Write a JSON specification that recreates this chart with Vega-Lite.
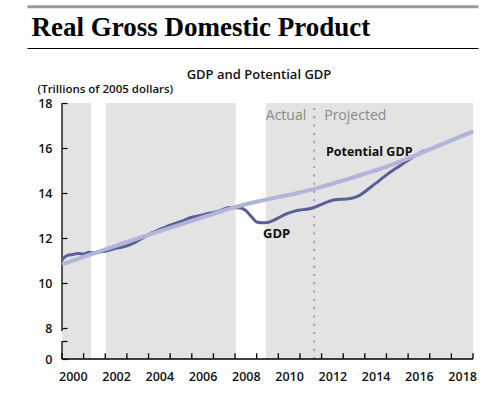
{
  "$schema": "https://vega.github.io/schema/vega-lite/v6.json",
  "width": 451,
  "height": 256,
  "autosize": {"type": "none"},
  "padding": {"left": 27, "top": 103, "right": 22, "bottom": 43},
  "config": {
    "view": {"stroke": null},
    "axis": {"grid": false},
    "text": {"font": "Open Sans"}
  },
  "datasets": {
    "gdp": [
      {"series": "GDP", "year": 2000.0, "value": 11.05},
      {"series": "GDP", "year": 2000.25, "value": 11.24},
      {"series": "GDP", "year": 2000.5, "value": 11.28},
      {"series": "GDP", "year": 2000.75, "value": 11.32},
      {"series": "GDP", "year": 2001.0, "value": 11.30},
      {"series": "GDP", "year": 2001.25, "value": 11.37},
      {"series": "GDP", "year": 2001.5, "value": 11.34},
      {"series": "GDP", "year": 2001.75, "value": 11.39},
      {"series": "GDP", "year": 2002.0, "value": 11.42},
      {"series": "GDP", "year": 2002.25, "value": 11.48},
      {"series": "GDP", "year": 2002.5, "value": 11.55},
      {"series": "GDP", "year": 2002.75, "value": 11.60},
      {"series": "GDP", "year": 2003.0, "value": 11.66},
      {"series": "GDP", "year": 2003.25, "value": 11.76},
      {"series": "GDP", "year": 2003.5, "value": 11.88},
      {"series": "GDP", "year": 2003.75, "value": 12.02},
      {"series": "GDP", "year": 2004.0, "value": 12.16},
      {"series": "GDP", "year": 2004.25, "value": 12.28},
      {"series": "GDP", "year": 2004.5, "value": 12.38},
      {"series": "GDP", "year": 2004.75, "value": 12.48},
      {"series": "GDP", "year": 2005.0, "value": 12.58},
      {"series": "GDP", "year": 2005.25, "value": 12.66},
      {"series": "GDP", "year": 2005.5, "value": 12.74},
      {"series": "GDP", "year": 2005.75, "value": 12.84},
      {"series": "GDP", "year": 2006.0, "value": 12.93},
      {"series": "GDP", "year": 2006.25, "value": 12.98},
      {"series": "GDP", "year": 2006.5, "value": 13.03},
      {"series": "GDP", "year": 2006.75, "value": 13.10},
      {"series": "GDP", "year": 2007.0, "value": 13.14},
      {"series": "GDP", "year": 2007.25, "value": 13.20},
      {"series": "GDP", "year": 2007.5, "value": 13.30},
      {"series": "GDP", "year": 2007.75, "value": 13.36},
      {"series": "GDP", "year": 2008.0, "value": 13.35},
      {"series": "GDP", "year": 2008.25, "value": 13.34},
      {"series": "GDP", "year": 2008.5, "value": 13.22},
      {"series": "GDP", "year": 2008.75, "value": 12.96},
      {"series": "GDP", "year": 2009.0, "value": 12.72},
      {"series": "GDP", "year": 2009.25, "value": 12.68},
      {"series": "GDP", "year": 2009.5, "value": 12.70},
      {"series": "GDP", "year": 2009.75, "value": 12.78},
      {"series": "GDP", "year": 2010.0, "value": 12.90},
      {"series": "GDP", "year": 2010.25, "value": 13.02},
      {"series": "GDP", "year": 2010.5, "value": 13.12},
      {"series": "GDP", "year": 2010.75, "value": 13.20},
      {"series": "GDP", "year": 2011.0, "value": 13.25},
      {"series": "GDP", "year": 2011.25, "value": 13.28},
      {"series": "GDP", "year": 2011.5, "value": 13.32},
      {"series": "GDP", "year": 2011.75, "value": 13.40},
      {"series": "GDP", "year": 2012.0, "value": 13.50},
      {"series": "GDP", "year": 2012.25, "value": 13.60},
      {"series": "GDP", "year": 2012.5, "value": 13.68},
      {"series": "GDP", "year": 2012.75, "value": 13.72},
      {"series": "GDP", "year": 2013.0, "value": 13.73},
      {"series": "GDP", "year": 2013.25, "value": 13.75},
      {"series": "GDP", "year": 2013.5, "value": 13.80},
      {"series": "GDP", "year": 2013.75, "value": 13.90},
      {"series": "GDP", "year": 2014.0, "value": 14.06},
      {"series": "GDP", "year": 2014.25, "value": 14.25},
      {"series": "GDP", "year": 2014.5, "value": 14.43},
      {"series": "GDP", "year": 2014.75, "value": 14.62},
      {"series": "GDP", "year": 2015.0, "value": 14.81},
      {"series": "GDP", "year": 2015.25, "value": 14.98},
      {"series": "GDP", "year": 2015.5, "value": 15.14},
      {"series": "GDP", "year": 2015.75, "value": 15.30},
      {"series": "GDP", "year": 2016.0, "value": 15.46},
      {"series": "GDP", "year": 2016.25, "value": 15.62},
      {"series": "GDP", "year": 2016.5, "value": 15.76},
      {"series": "GDP", "year": 2016.75, "value": 15.88},
      {"series": "GDP", "year": 2017.0, "value": 15.95},
      {"series": "GDP", "year": 2017.5, "value": 16.15},
      {"series": "GDP", "year": 2018.0, "value": 16.34},
      {"series": "GDP", "year": 2018.5, "value": 16.54},
      {"series": "GDP", "year": 2019.0, "value": 16.74},
      {"series": "Potential GDP", "year": 2000, "value": 10.84},
      {"series": "Potential GDP", "year": 2001, "value": 11.17},
      {"series": "Potential GDP", "year": 2002, "value": 11.50},
      {"series": "Potential GDP", "year": 2003, "value": 11.83},
      {"series": "Potential GDP", "year": 2004, "value": 12.15},
      {"series": "Potential GDP", "year": 2005, "value": 12.46},
      {"series": "Potential GDP", "year": 2006, "value": 12.77},
      {"series": "Potential GDP", "year": 2007, "value": 13.08},
      {"series": "Potential GDP", "year": 2008, "value": 13.38},
      {"series": "Potential GDP", "year": 2009, "value": 13.62},
      {"series": "Potential GDP", "year": 2010, "value": 13.83},
      {"series": "Potential GDP", "year": 2011, "value": 14.03},
      {"series": "Potential GDP", "year": 2012, "value": 14.28},
      {"series": "Potential GDP", "year": 2013, "value": 14.56},
      {"series": "Potential GDP", "year": 2014, "value": 14.86},
      {"series": "Potential GDP", "year": 2015, "value": 15.17},
      {"series": "Potential GDP", "year": 2016, "value": 15.54},
      {"series": "Potential GDP", "year": 2017, "value": 15.94},
      {"series": "Potential GDP", "year": 2018, "value": 16.34},
      {"series": "Potential GDP", "year": 2019, "value": 16.74}
    ],
    "shading": [
      {"start": 2000.0, "end": 2001.34},
      {"start": 2002.03, "end": 2008.02},
      {"start": 2009.42, "end": 2019.0}
    ]
  },
  "resolve": {"axis": {"x": "independent"}},
  "layer": [
    {
      "data": {"name": "shading"},
      "mark": {"type": "rect", "color": "#e3e3e3"},
      "encoding": {
        "x": {
          "field": "start",
          "type": "quantitative",
          "scale": {"domain": [1998.382, 2019.231], "nice": false, "zero": false},
          "axis": {
            "orient": "bottom",
            "zindex": 2,
            "tickCount": 40,
            "values": [2000, 2002, 2004, 2006, 2008, 2010, 2012, 2014, 2016, 2018],
            "format": "d",
            "labelOverlap": false,
            "domain": false,
            "ticks": false,
            "labelOffset": 10.8,
            "labelPadding": 11,
            "labelFlush": false,
            "labelFont": "Open Sans",
            "labelFontSize": 12.5,
            "labelFontWeight": 600,
            "labelColor": "#111111",
            "title": null
          }
        },
        "x2": {"field": "end"},
        "y": {
          "datum": 0,
          "type": "quantitative",
          "scale": {"domain": [0, 8, 18], "range": [256, 225.3, 0], "nice": false, "zero": false},
          "axis": {
            "orient": "left",
            "zindex": 1,
            "offset": -35,
            "tickCount": 20,
            "values": [0, 4.7, 8, 10, 12, 14, 16, 18],
            "labelExpr": "datum.value == 4.7 ? '' : datum.label",
            "labelOverlap": false,
            "domain": false,
            "tickSize": -5,
            "tickColor": "#000000",
            "tickWidth": 1.2,
            "labelPadding": 15,
            "labelFont": "Open Sans",
            "labelFontSize": 12.5,
            "labelFontWeight": 600,
            "labelColor": "#111111",
            "title": "(Trillions of 2005 dollars)",
            "titleAngle": 0,
            "titleAlign": "left",
            "titleBaseline": "alphabetic",
            "titleX": -25,
            "titleY": -10.5,
            "titleFont": "Open Sans",
            "titleFontSize": 11.5,
            "titleFontWeight": 600,
            "titleColor": "#111111"
          }
        },
        "y2": {"datum": 18}
      }
    },
    {
      "data": {"values": [{}]},
      "mark": {"type": "rule", "strokeDash": [2, 6.3], "strokeWidth": 2, "color": "#a3a3a3"},
      "encoding": {
        "x": {
          "datum": 2011.66,
          "type": "quantitative",
          "axis": {
            "orient": "top",
            "offset": 55,
            "labels": false,
            "ticks": false,
            "domain": true,
            "domainColor": "#000000",
            "domainWidth": 1.2,
            "title": "Real Gross Domestic Product",
            "titleFont": "Liberation Serif",
            "titleFontSize": 27,
            "titleFontWeight": "bold",
            "titleColor": "#000000",
            "titleAlign": "left",
            "titleBaseline": "alphabetic",
            "titleX": 4,
            "titleY": -12.7
          }
        },
        "y": {"datum": 0, "type": "quantitative"},
        "y2": {"datum": 18}
      }
    },
    {
      "data": {"values": [{}]},
      "mark": {"type": "text", "text": "Actual", "align": "right", "baseline": "alphabetic", "dx": -8, "fontSize": 14, "color": "#8a8a8a"},
      "encoding": {
        "x": {
          "datum": 2011.66,
          "type": "quantitative",
          "axis": {
            "orient": "top",
            "offset": 96.7,
            "labels": false,
            "ticks": false,
            "domain": true,
            "domainColor": "#9a9a9a",
            "domainWidth": 3,
            "title": null
          }
        },
        "y": {"datum": 17.25, "type": "quantitative"}
      }
    },
    {
      "data": {"values": [{}]},
      "mark": {"type": "text", "text": "Projected", "align": "left", "baseline": "alphabetic", "dx": 10, "fontSize": 14, "color": "#8a8a8a"},
      "encoding": {
        "x": {
          "datum": 2011.66,
          "type": "quantitative",
          "axis": {
            "orient": "top",
            "offset": 0,
            "labels": false,
            "ticks": false,
            "domain": false,
            "title": "GDP and Potential GDP",
            "titleFont": "Open Sans",
            "titleFontSize": 13,
            "titleFontWeight": 600,
            "titleColor": "#111111",
            "titleAlign": "center",
            "titleBaseline": "alphabetic",
            "titleX": 231.5,
            "titleY": -24.7
          }
        },
        "y": {"datum": 17.25, "type": "quantitative"}
      }
    },
    {
      "data": {"name": "gdp"},
      "transform": [{"filter": "datum.series == 'Potential GDP'"}],
      "mark": {"type": "rule", "color": "#000000", "strokeWidth": 1.3},
      "encoding": {
        "x": {"field": "year", "type": "quantitative", "axis": null},
        "y": {"datum": 0, "type": "quantitative"},
        "y2": {"datum": 1.5}
      }
    },
    {
      "data": {"values": [{}]},
      "mark": {"type": "rule", "color": "#000000", "strokeWidth": 1.3},
      "encoding": {
        "x": {"datum": 2000, "type": "quantitative", "axis": null},
        "x2": {"datum": 2019},
        "y": {"datum": 0, "type": "quantitative"}
      }
    },
    {
      "data": {"values": [{}]},
      "mark": {"type": "rule", "color": "#000000", "strokeWidth": 1.3},
      "encoding": {
        "x": {"datum": 2000, "type": "quantitative", "axis": null},
        "y": {"datum": 0, "type": "quantitative"},
        "y2": {"datum": 4.7}
      }
    },
    {
      "data": {"values": [{}]},
      "mark": {"type": "rule", "color": "#000000", "strokeWidth": 1.3},
      "encoding": {
        "x": {"datum": 2000, "type": "quantitative", "axis": null},
        "y": {"datum": 7.3, "type": "quantitative"},
        "y2": {"datum": 18}
      }
    },
    {
      "data": {"name": "gdp"},
      "transform": [{"filter": "datum.series == 'GDP'"}],
      "mark": {"type": "line", "strokeWidth": 3, "color": "#5b5f99", "interpolate": "monotone"},
      "encoding": {
        "x": {"field": "year", "type": "quantitative", "axis": null},
        "y": {"field": "value", "type": "quantitative"}
      }
    },
    {
      "data": {"name": "gdp"},
      "transform": [{"filter": "datum.series == 'Potential GDP'"}],
      "mark": {"type": "line", "strokeWidth": 4, "color": "#b1b5d9", "interpolate": "monotone"},
      "encoding": {
        "x": {"field": "year", "type": "quantitative", "axis": null},
        "y": {"field": "value", "type": "quantitative"}
      }
    },
    {
      "data": {"values": [{}]},
      "mark": {"type": "text", "text": "Potential GDP", "align": "left", "baseline": "alphabetic", "fontSize": 12.5, "fontWeight": "bold", "color": "#111111"},
      "encoding": {
        "x": {"datum": 2012.2, "type": "quantitative", "axis": null},
        "y": {"datum": 15.66, "type": "quantitative"}
      }
    },
    {
      "data": {"values": [{}]},
      "mark": {"type": "text", "text": "GDP", "align": "center", "baseline": "alphabetic", "fontSize": 13, "fontWeight": "bold", "color": "#111111"},
      "encoding": {
        "x": {"datum": 2009.92, "type": "quantitative", "axis": null},
        "y": {"datum": 12.0, "type": "quantitative"}
      }
    }
  ]
}
